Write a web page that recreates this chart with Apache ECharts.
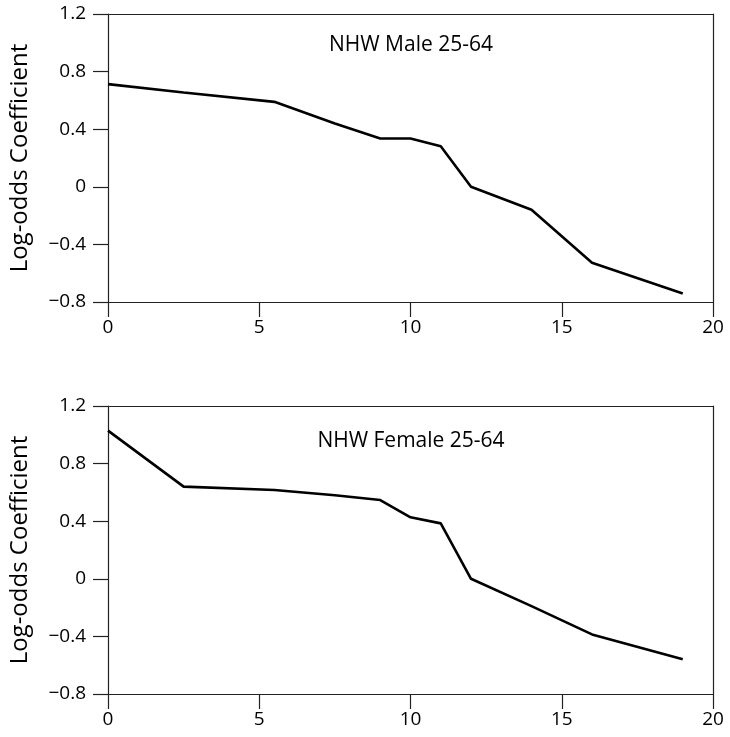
<!DOCTYPE html>
<html>
<head>
<meta charset="utf-8">
<script src="https://cdn.jsdelivr.net/npm/echarts@6/dist/echarts.min.js"></script>
<style>
  html, body { margin: 0; padding: 0; background: #fff; }
  #chart { width: 730px; height: 737px; }
</style>
</head>
<body>
<div id="chart"></div>
<script>
// Years of schooling (x) shared by both panels
const years = [0, 2.5, 5.5, 7.5, 9, 10, 11, 12, 14, 16, 19];
// Log-odds coefficients by panel
const maleCoef = [0.713, 0.655, 0.59, 0.44, 0.335, 0.335, 0.282, 0, -0.159, -0.527, -0.741];
const femaleCoef = [1.029, 0.64, 0.617, 0.58, 0.547, 0.427, 0.385, 0, -0.19, -0.386, -0.559];
const panelTitles = ['NHW Male 25-64', 'NHW Female 25-64'];
const yAxisTitle = 'Log-odds Coefficient';

const FONT = 'Open Sans';
const AXIS_COLOR = '#222';

function pairs(xs, ys) { return xs.map((x, i) => [x, ys[i]]); }

const gridTops = [14, 406];
const titleOffsets = [16, 20];
const grids = gridTops.map(t => ({
  left: 108, right: 17, top: t, height: 288, show: false
}));

function tickStyle(len) {
  return { show: true, inside: false, length: len, lineStyle: { color: AXIS_COLOR, width: 1.2 } };
}

// bottom + left axes carry ticks and labels; top + right axes only close the frame
const xAxes = [];
const yAxes = [];
[0, 1].forEach(i => {
  xAxes.push({
    type: 'value', gridIndex: i, position: 'bottom', min: 0, max: 20, interval: 5,
    axisLine: { show: true, onZero: false, lineStyle: { color: AXIS_COLOR, width: 1.2 } },
    axisTick: tickStyle(15),
    axisLabel: { color: '#000', fontFamily: FONT, fontSize: 19, margin: 16 },
    splitLine: { show: false }
  });
  xAxes.push({
    type: 'value', gridIndex: i, position: 'top', min: 0, max: 20, interval: 5,
    axisLine: { show: true, onZero: false, lineStyle: { color: AXIS_COLOR, width: 1.2 } },
    axisTick: { show: false }, axisLabel: { show: false }, splitLine: { show: false }
  });
  yAxes.push({
    type: 'value', gridIndex: i, position: 'left', min: -0.8, max: 1.2, interval: 0.4,
    name: yAxisTitle, nameLocation: 'middle', nameGap: 76,
    nameTextStyle: { color: '#000', fontFamily: FONT, fontSize: 24 },
    axisLine: { show: true, onZero: false, lineStyle: { color: AXIS_COLOR, width: 1.2 } },
    axisTick: tickStyle(15),
    axisLabel: {
      color: '#000', fontFamily: FONT, fontSize: 19, margin: 22,
      formatter: v => {
        const r = Math.round(v * 10) / 10;
        const s = r === 0 ? '0' : Math.abs(r).toFixed(1);
        return r < 0 ? '\u2212' + s : s;
      }
    },
    splitLine: { show: false }
  });
  yAxes.push({
    type: 'value', gridIndex: i, position: 'right', min: -0.8, max: 1.2, interval: 0.4,
    axisLine: { show: true, onZero: false, lineStyle: { color: AXIS_COLOR, width: 1.2 } },
    axisTick: { show: false }, axisLabel: { show: false }, splitLine: { show: false }
  });
});

const option = {
  backgroundColor: '#fff',
  animation: false,
  title: panelTitles.map((t, i) => ({
    text: t, left: 406, top: gridTops[i] + titleOffsets[i], textAlign: 'center',
    textStyle: { color: '#000', fontFamily: FONT, fontSize: 21, fontWeight: 'normal' }
  })),
  grid: grids,
  xAxis: xAxes,
  yAxis: yAxes,
  series: [maleCoef, femaleCoef].map((vals, i) => ({
    type: 'line', xAxisIndex: 2 * i, yAxisIndex: 2 * i,
    data: pairs(years, vals),
    showSymbol: false, symbol: 'none',
    lineStyle: { color: '#000', width: 2.6 }
  }))
};

echarts.init(document.getElementById('chart'), null, { renderer: 'canvas' }).setOption(option);
</script>
</body>
</html>
